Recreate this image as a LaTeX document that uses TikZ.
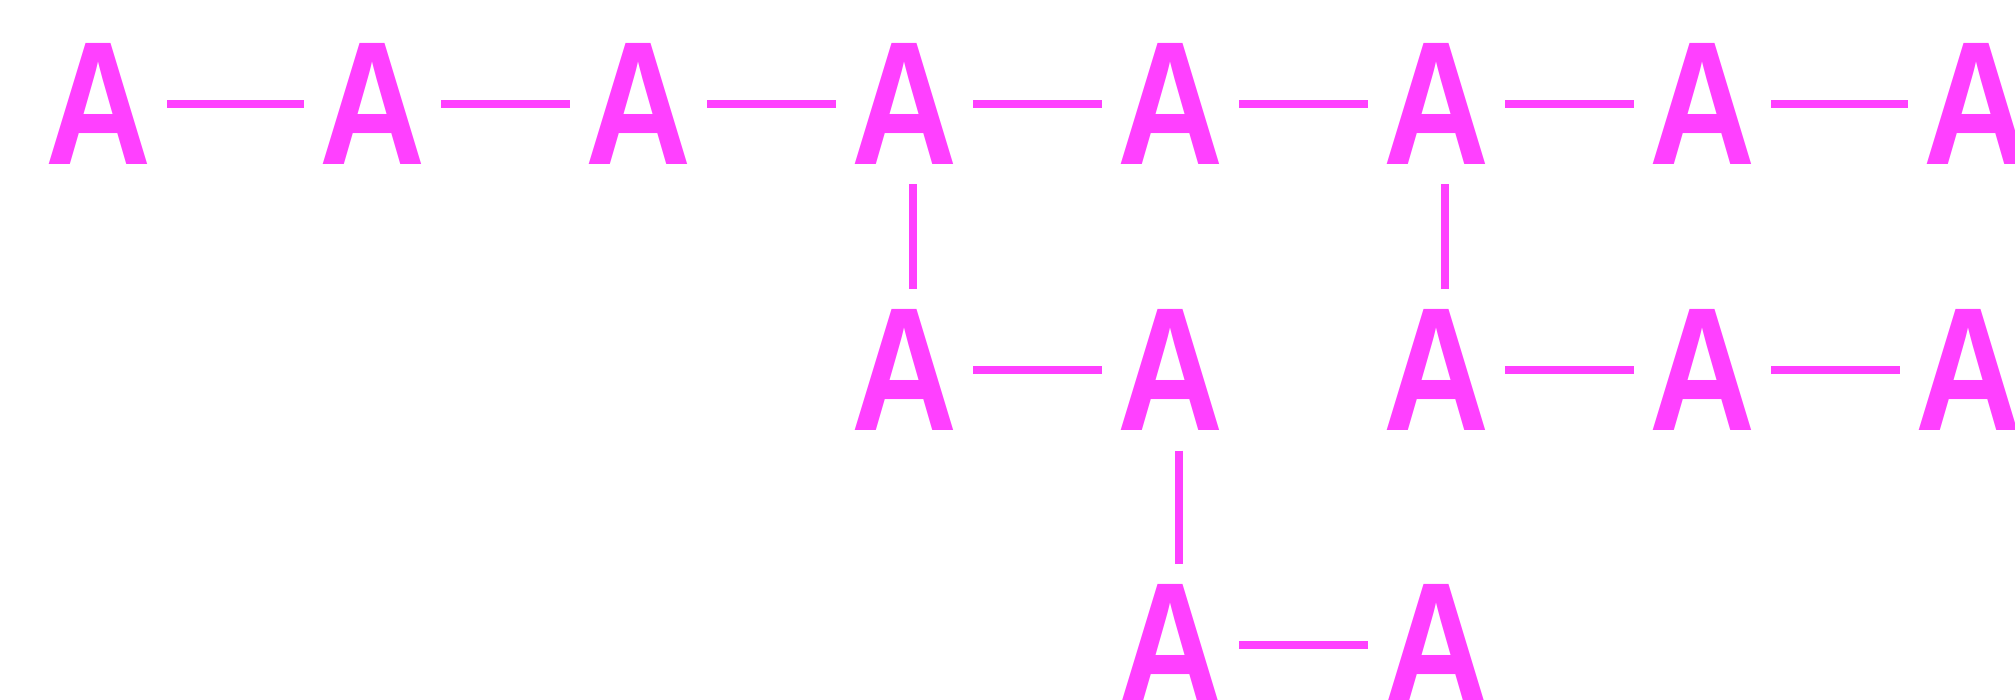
\documentclass[tikz,border=0pt]{standalone}
\usepackage{fontspec}
\setmainfont{Liberation Sans}[BoldFont={Liberation Sans Bold}]
\definecolor{pk}{RGB}{255,64,255}
\newcommand{\glyphA}{\resizebox{106pt}{121pt}{\bfseries A}}
\begin{document}
\begin{tikzpicture}[x=1pt,y=-1pt,
  letter/.style={text=pk, inner sep=0pt, minimum width=137pt, minimum height=161pt},
  link/.style={draw=pk, line width=8pt}]
\useasboundingbox (0,0) rectangle (2015,699);
% row 1
\node[letter] (a0) at (98.5,103.5) {\glyphA};
\node[letter] (a1) at (372.5,103.5) {\glyphA};
\node[letter] (a2) at (638.5,103.5) {\glyphA};
\node[letter] (a3) at (904.5,103.5) {\glyphA};
\node[letter] (a4) at (1170.5,103.5) {\glyphA};
\node[letter] (a5) at (1436.5,103.5) {\glyphA};
\node[letter] (a6) at (1702.5,103.5) {\glyphA};
\node[letter] (a7) at (1976.5,103.5) {\glyphA};
% row 2
\node[letter] (b3) at (904.5,370) {\glyphA};
\node[letter] (b4) at (1170.5,370) {\glyphA};
\node[letter] (b5) at (1436.5,370) {\glyphA};
\node[letter] (b6) at (1702.5,370) {\glyphA};
\node[letter] (b7) at (1968.5,370) {\glyphA};
% row 3
\node[letter] (c4) at (1170.5,644.5) {\glyphA};
\node[letter] (c5) at (1436.5,644.5) {\glyphA};
% horizontal links
\draw[link] (a0.east) -- (a1.west);
\draw[link] (a1.east) -- (a2.west);
\draw[link] (a2.east) -- (a3.west);
\draw[link] (a3.east) -- (a4.west);
\draw[link] (a4.east) -- (a5.west);
\draw[link] (a5.east) -- (a6.west);
\draw[link] (a6.east) -- (a7.west);
\draw[link] (b3.east) -- (b4.west);
\draw[link] (b5.east) -- (b6.west);
\draw[link] (b6.east) -- (b7.west);
\draw[link] (c4.east) -- (c5.west);
% vertical links
\draw[link] ([xshift=8.5pt]a3.south) -- ([xshift=8.5pt]b3.north);
\draw[link] ([xshift=8.5pt]a5.south) -- ([xshift=8.5pt]b5.north);
\draw[link] ([xshift=8.5pt]b4.south) -- ([xshift=8.5pt]c4.north);
\end{tikzpicture}
\end{document}
